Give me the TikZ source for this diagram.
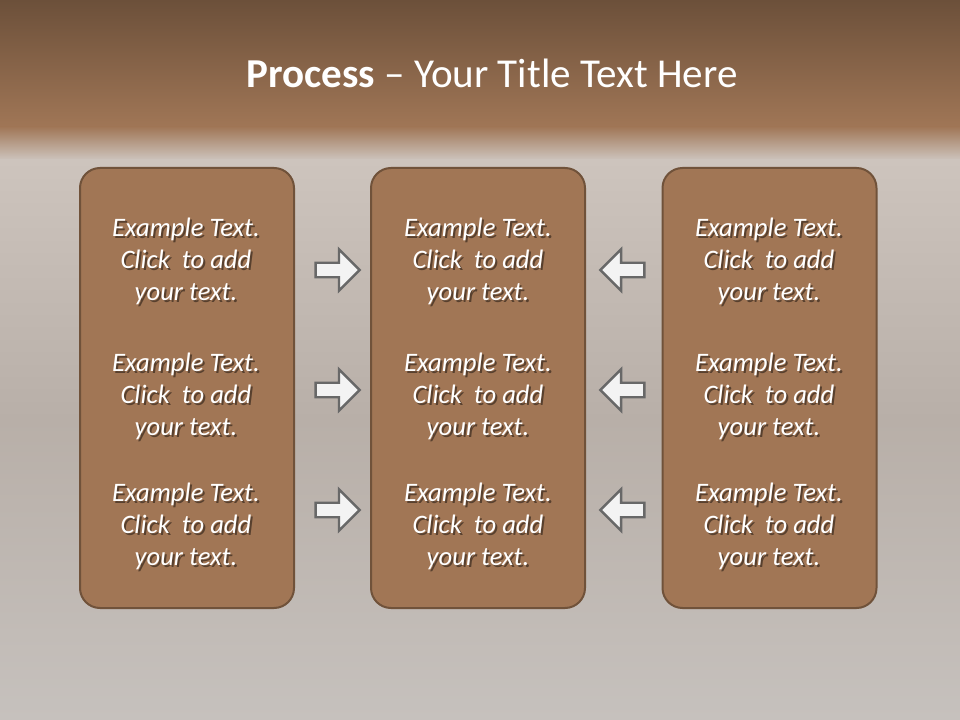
\documentclass[tikz,border=0pt]{standalone}
\usepackage{fontspec}
\setmainfont{Carlito}
\usetikzlibrary{shapes.arrows}

\definecolor{bandtop}{RGB}{108,80,58}
\definecolor{bandmid}{RGB}{160,118,86}
\definecolor{stonelight}{RGB}{205,196,189}
\definecolor{stonemid}{RGB}{184,175,168}
\definecolor{stonelow}{RGB}{198,193,189}
\definecolor{boxfill}{RGB}{161,118,85}
\definecolor{boxline}{RGB}{112,82,58}
\definecolor{arrowfill}{RGB}{243,243,243}
\definecolor{arrowline}{RGB}{104,104,104}

\begin{document}
\begin{tikzpicture}[
  x=0.75pt, y=-0.75pt,
  every node/.style={font=\fontsize{20}{24}\selectfont},
  panel/.style={rectangle, rounded corners=15pt, draw=boxline, line width=1.5pt,
    fill=boxfill, minimum width=160.5pt, minimum height=330pt},
  boxtext/.style={align=center, text=white, font=\fontsize{20}{24}\selectfont\itshape},
  boxshadow/.style={boxtext, text=black, text opacity=0.45},
  rarrow/.style={single arrow, draw=arrowline, line width=1.8pt, fill=arrowfill,
    minimum height=33pt, minimum width=31pt, inner sep=4.5pt,
    single arrow head extend=10pt},
  larrow/.style={rarrow, shape border rotate=180}
]

% background: brown title band fading into stone
\useasboundingbox (0,0) rectangle (960,720);
\fill[top color=bandtop, bottom color=bandmid] (0,0) rectangle (960,127);
\fill[top color=bandmid, bottom color=stonelight] (0,126.5) rectangle (960,160);
\fill[top color=stonelight, bottom color=stonemid] (0,159.5) rectangle (960,420);
\fill[top color=stonemid, bottom color=stonelow] (0,419.5) rectangle (960,720);

% title
\node[text=white, anchor=base, font=\fontsize{30.8}{37}\selectfont] (title) at (492,88)
  {\textbf{Process} -- Your Title Text Here};

% three panels
\node[panel] (leftbox) at (187,388) {};
\node[panel] (midbox) at (478,388) {};
\node[panel] (rightbox) at (769.5,388) {};

% left panel text
\node[boxshadow] (l1s) at (188,263) {Example Text.\\Click\ \ to add\\your text.};
\node[boxtext] (l1) at (186,261) {Example Text.\\Click\ \ to add\\your text.};
\node[boxshadow] (l2s) at (188,398) {Example Text.\\Click\ \ to add\\your text.};
\node[boxtext] (l2) at (186,396) {Example Text.\\Click\ \ to add\\your text.};
\node[boxshadow] (l3s) at (188,528) {Example Text.\\Click\ \ to add\\your text.};
\node[boxtext] (l3) at (186,526) {Example Text.\\Click\ \ to add\\your text.};

% middle panel text
\node[boxshadow] (m1s) at (480,263) {Example Text.\\Click\ \ to add\\your text.};
\node[boxtext] (m1) at (478,261) {Example Text.\\Click\ \ to add\\your text.};
\node[boxshadow] (m2s) at (480,398) {Example Text.\\Click\ \ to add\\your text.};
\node[boxtext] (m2) at (478,396) {Example Text.\\Click\ \ to add\\your text.};
\node[boxshadow] (m3s) at (480,528) {Example Text.\\Click\ \ to add\\your text.};
\node[boxtext] (m3) at (478,526) {Example Text.\\Click\ \ to add\\your text.};

% right panel text
\node[boxshadow] (r1s) at (771,263) {Example Text.\\Click\ \ to add\\your text.};
\node[boxtext] (r1) at (769,261) {Example Text.\\Click\ \ to add\\your text.};
\node[boxshadow] (r2s) at (771,398) {Example Text.\\Click\ \ to add\\your text.};
\node[boxtext] (r2) at (769,396) {Example Text.\\Click\ \ to add\\your text.};
\node[boxshadow] (r3s) at (771,528) {Example Text.\\Click\ \ to add\\your text.};
\node[boxtext] (r3) at (769,526) {Example Text.\\Click\ \ to add\\your text.};

% block arrows pointing into the middle panel
\node[rarrow] (ra1) at (334,270) {};
\node[rarrow] (ra2) at (334,390) {};
\node[rarrow] (ra3) at (334,510) {};
\node[larrow] (la1) at (626,270) {};
\node[larrow] (la2) at (626,390) {};
\node[larrow] (la3) at (626,510) {};

\end{tikzpicture}
\end{document}
